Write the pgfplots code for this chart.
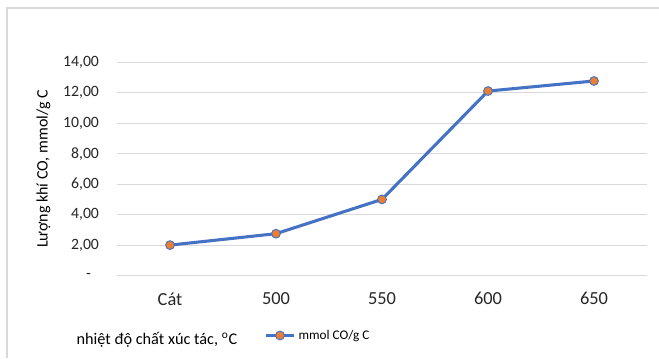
\documentclass[border=0pt]{standalone}
\usepackage{fontspec}
\setmainfont{Carlito}
\usepackage{pgfplots}
\pgfplotsset{compat=1.18}
\definecolor{xlblue}{HTML}{4472C4}
\definecolor{xlorange}{HTML}{ED7D31}
\definecolor{gridgray}{HTML}{D9D9D9}
\definecolor{txtgray}{HTML}{262626}
\begin{document}
\begin{tikzpicture}
\useasboundingbox (0,0) rectangle (494.25pt,268.5pt);
\draw[gridgray, line width=1pt] (5.25pt,0pt) -- (5.25pt,262.5pt) -- (494.25pt,262.5pt);
\begin{axis}[
  at={(87.75pt,61.7pt)}, anchor=south west,
  scale only axis, width=397.5pt, height=160pt,
  xmin=-0.5, xmax=4.5, ymin=0, ymax=14,
  xtick={0,1,2,3,4}, xticklabels={Cát,500,550,600,650},
  ytick={0,2,4,6,8,10,12,14},
  yticklabels={{-\hspace*{6pt}},2{,}00,4{,}00,6{,}00,8{,}00,10{,}00,12{,}00,14{,}00},
  ymajorgrids, grid style={draw=gridgray, line width=0.9pt},
  axis line style={draw=none}, tick style={draw=none},
  yticklabel style={anchor=east, xshift=-10pt, font=\fontsize{11.8}{13}\selectfont, text=txtgray},
  xticklabel style={anchor=north, yshift=-9pt, font=\fontsize{13.8}{15}\selectfont, text=txtgray},
  ylabel={Lượng khí CO, mmol/g C},
  ylabel style={at={(axis description cs:-0.139,0.5)}, anchor=center, font=\fontsize{12}{14}\selectfont, text=black},
  xlabel={nhiệt độ chất xúc tác, \textsuperscript{o}C},
  xlabel style={at={(axis description cs:-0.0850,-0.3200)}, anchor=base west, font=\fontsize{12.2}{14}\selectfont, text=black},
  legend style={at={(axis description cs:0.277,-0.280)}, anchor=west, draw=none, fill=none, inner sep=0pt, font=\fontsize{9.9}{11}\selectfont},
  legend image code/.code={\draw[mark repeat=2,mark phase=2,#1] plot coordinates {(0cm,0cm) (0.38cm,0cm) (0.76cm,0cm)};},
]
\addplot[xlblue, line width=2.3pt, mark=*, mark size=3.3pt, mark options={fill=xlorange, draw=xlblue, line width=0.7pt}]
  coordinates {(0,2.01) (1,2.76) (2,5.01) (3,12.12) (4,12.78)};
\addlegendentry{mmol CO/g C}
\end{axis}
\end{tikzpicture}
\end{document}
